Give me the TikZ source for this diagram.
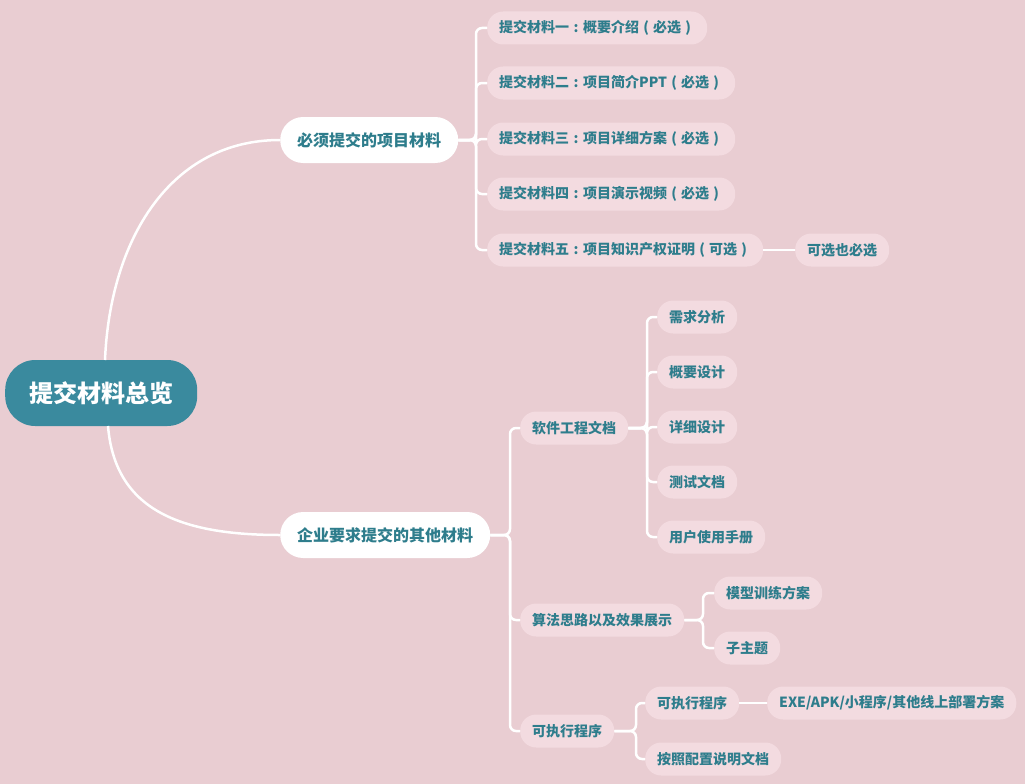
\documentclass[tikz,border=0pt]{standalone}
\usepackage{fontspec}
\setmainfont{Noto Sans CJK SC}
\definecolor{bg}{RGB}{233,205,210}
\definecolor{leaf}{RGB}{243,219,224}
\definecolor{rootc}{RGB}{58,138,158}
\definecolor{txt}{RGB}{46,125,140}
\newcommand{\jcolon}{\makebox[1em][c]{:}}
\newcommand{\jlp}{\makebox[1em][c]{(}}
\newcommand{\jrp}{\makebox[1em][c]{)}}
\tikzset{
  rootbox/.style={fill=rootc, text=white, font=\fontsize{24}{28}\selectfont\bfseries, rounded corners=30pt, minimum height=66pt, inner xsep=24pt, anchor=west},
  mainbox/.style={fill=white, text=txt, font=\fontsize{16}{19}\selectfont\bfseries, rounded corners=23pt, minimum height=46pt, inner xsep=17pt, anchor=west},
  leafbox/.style={fill=leaf, text=txt, font=\fontsize{14}{17}\selectfont\bfseries, rounded corners=16pt, minimum height=33pt, inner xsep=12pt, anchor=west},
  link/.style={draw=white, line width=2.5pt, rounded corners=6pt},
  curve/.style={draw=white, line width=2.5pt}
}
\begin{document}
\begin{tikzpicture}[x=1pt,y=-1pt]
\fill[bg] (0,0) rectangle (1025,784);
\useasboundingbox (0,0) rectangle (1025,784);

\node[rootbox] (root) at (5,393) {提交材料总览};

\node[mainbox] (A) at (280,140) {必须提交的项目材料};
\node[mainbox] (B) at (280,535) {企业要求提交的其他材料};

\draw[curve] (105,360) .. controls (110,240) and (170,140) .. (A.west);
\draw[curve] (108,426) .. controls (115,510) and (180,535) .. (B.west);

% group A
\node[leafbox] (a1) at (487,28) {提交材料一\jcolon 概要介绍\jlp 必选\jrp};
\node[leafbox] (a2) at (487,83) {提交材料二\jcolon 项目简介PPT\jlp 必选\jrp};
\node[leafbox] (a3) at (487,139) {提交材料三\jcolon 项目详细方案\jlp 必选\jrp};
\node[leafbox] (a4) at (487,194) {提交材料四\jcolon 项目演示视频\jlp 必选\jrp};
\node[leafbox] (a5) at (487,250) {提交材料五\jcolon 项目知识产权证明\jlp 可选\jrp};
\node[leafbox] (a6) at (795,250) {可选也必选};
\foreach \c in {a1,a2,a3,a4,a5}{
  \draw[link] (A.east) -- (476,140) |- (\c.west);
}
\draw[link] (a5.east) -- (a6.west);

% group B
\node[leafbox] (b1) at (520,428) {软件工程文档};
\node[leafbox] (b2) at (520,620) {算法思路以及效果展示};
\node[leafbox] (b3) at (520,731) {可执行程序};
\foreach \c in {b1,b2,b3}{
  \draw[link] (B.east) -- (510,535) |- (\c.west);
}

\node[leafbox] (c1) at (657,317) {需求分析};
\node[leafbox] (c2) at (657,372) {概要设计};
\node[leafbox] (c3) at (657,427) {详细设计};
\node[leafbox] (c4) at (657,482) {测试文档};
\node[leafbox] (c5) at (657,537) {用户使用手册};
\foreach \c in {c1,c2,c3,c4,c5}{
  \draw[link] (b1.east) -- (647,428) |- (\c.west);
}

\node[leafbox] (d1) at (714,593) {模型训练方案};
\node[leafbox] (d2) at (714,648) {子主题};
\foreach \c in {d1,d2}{
  \draw[link] (b2.east) -- (703,620) |- (\c.west);
}

\node[leafbox] (e1) at (645,703) {可执行程序};
\node[leafbox] (e2) at (645,759) {按照配置说明文档};
\node[leafbox] (e3) at (767,703) {EXE/APK/小程序/其他线上部署方案};
\foreach \c in {e1,e2}{
  \draw[link] (b3.east) -- (636,731) |- (\c.west);
}
\draw[link] (e1.east) -- (e3.west);
\end{tikzpicture}
\end{document}
